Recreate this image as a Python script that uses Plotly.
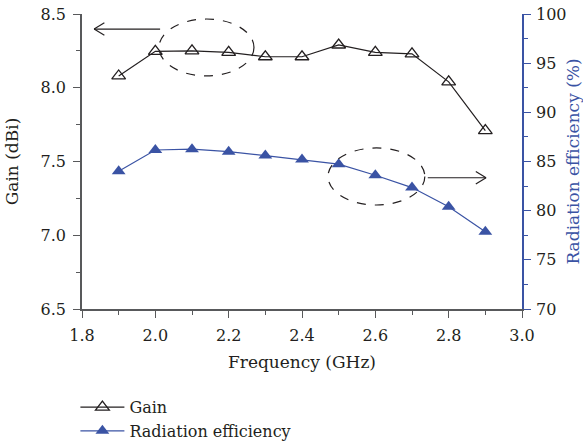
import plotly.graph_objects as go

freq = [1.9, 2.0, 2.1, 2.2, 2.3, 2.4, 2.5, 2.6, 2.7, 2.8, 2.9]
gain = [8.08, 8.247, 8.25, 8.24, 8.21, 8.21, 8.29, 8.24, 8.23, 8.04, 7.71]
efficiency = [84.0, 86.17, 86.25, 86.0, 85.6, 85.2, 84.73, 83.6, 82.35, 80.4, 77.86]

BLUE = "#3a53a4"
AX = "#58595b"
TXT = "#231f20"
FONT = "'DejaVu Serif', 'Liberation Serif', serif"

fig = go.Figure()
fig.add_trace(go.Scatter(
    x=freq, y=gain, name="Gain", mode="lines+markers",
    line=dict(color="#231f20", width=1.2),
    marker=dict(symbol="triangle-up-open", size=12, color="#231f20", line=dict(width=1.3)),
))
fig.add_trace(go.Scatter(
    x=freq, y=efficiency, name="Radiation efficiency", mode="lines+markers", yaxis="y2",
    line=dict(color=BLUE, width=1.2),
    marker=dict(symbol="triangle-up", size=12, color=BLUE),
))

# Dashed ellipses (decorations)
ellipses = [
    (2.010, 8.080, 2.269, 8.466),
    (2.471, 7.205, 2.735, 7.592),
]
shapes = []
for x0, y0, x1, y1 in ellipses:
    shapes.append(dict(type="circle", xref="x", yref="y", x0=x0, y0=y0, x1=x1, y1=y1,
                       line=dict(color="#231f20", width=1.2, dash="dash")))

# Arrows: (x_tail, x_head, y) in data coords, drawn with open chevron heads
arrows = [(2.013, 1.833, 8.398), (2.743, 2.902, 7.39)]
hx = 0.028
hy = 0.042
for xt, xh, y in arrows:
    d = 1 if xh > xt else -1
    shapes.append(dict(type="line", xref="x", yref="y", x0=xt, x1=xh, y0=y, y1=y,
                       line=dict(color="#231f20", width=1.2)))
    for s in (1, -1):
        shapes.append(dict(type="line", xref="x", yref="y", x0=xh, y0=y,
                           x1=xh - d * hx, y1=y + s * hy,
                           line=dict(color="#231f20", width=1.2)))

fig.update_layout(
    width=583, height=445,
    margin=dict(l=82, r=61, t=14, b=136, autoexpand=False),
    paper_bgcolor="white", plot_bgcolor="white",
    font=dict(family=FONT, size=16, color=TXT),
    shapes=shapes,
    showlegend=True,
    legend=dict(x=-0.015, y=-0.275, xanchor="left", yanchor="top",
                font=dict(family=FONT, size=16, color=TXT),
                bgcolor="rgba(0,0,0,0)", tracegroupgap=0, itemwidth=44),
    xaxis=dict(
        range=[1.8, 3.0], dtick=0.2, tick0=1.8, tickformat=".1f", automargin=False,
        showgrid=False, zeroline=False,
        showline=True, linecolor=AX, linewidth=1.6,
        ticks="outside", ticklen=7, tickwidth=1.4, tickcolor=AX,
        minor=dict(dtick=0.1, ticks="outside", ticklen=4, tickwidth=1.2, tickcolor=AX, showgrid=False),
        tickfont=dict(family=FONT, size=16, color=TXT), ticklabelstandoff=4,
        title=dict(text="Frequency (GHz)", font=dict(family=FONT, size=17, color=TXT), standoff=12),
    ),
    yaxis=dict(
        range=[6.5, 8.5], dtick=0.5, tick0=6.5, tickformat=".1f", automargin=False,
        showgrid=False, zeroline=False,
        showline=True, linecolor=AX, linewidth=1.6,
        ticks="outside", ticklen=7, tickwidth=1.4, tickcolor=AX,
        minor=dict(dtick=0.25, ticks="outside", ticklen=4, tickwidth=1.2, tickcolor=AX, showgrid=False),
        tickfont=dict(family=FONT, size=16, color=TXT), ticklabelstandoff=4,
        title=dict(text="Gain (dBi)", font=dict(family=FONT, size=17, color=TXT), standoff=18),
    ),
    yaxis2=dict(
        overlaying="y", side="right", anchor="x", automargin=False,
        range=[70, 100], dtick=5, tick0=70,
        showgrid=False, zeroline=False,
        showline=True, linecolor=BLUE, linewidth=1.6,
        ticks="outside", ticklen=7, tickwidth=1.4, tickcolor=BLUE,
        minor=dict(dtick=2.5, ticks="outside", ticklen=4, tickwidth=1.2, tickcolor=BLUE, showgrid=False),
        tickfont=dict(family=FONT, size=16, color=TXT), ticklabelstandoff=2,
        title=dict(text="Radiation efficiency (%)", font=dict(family=FONT, size=17, color=BLUE), standoff=10),
    ),
)

fig.write_html("out.html")
